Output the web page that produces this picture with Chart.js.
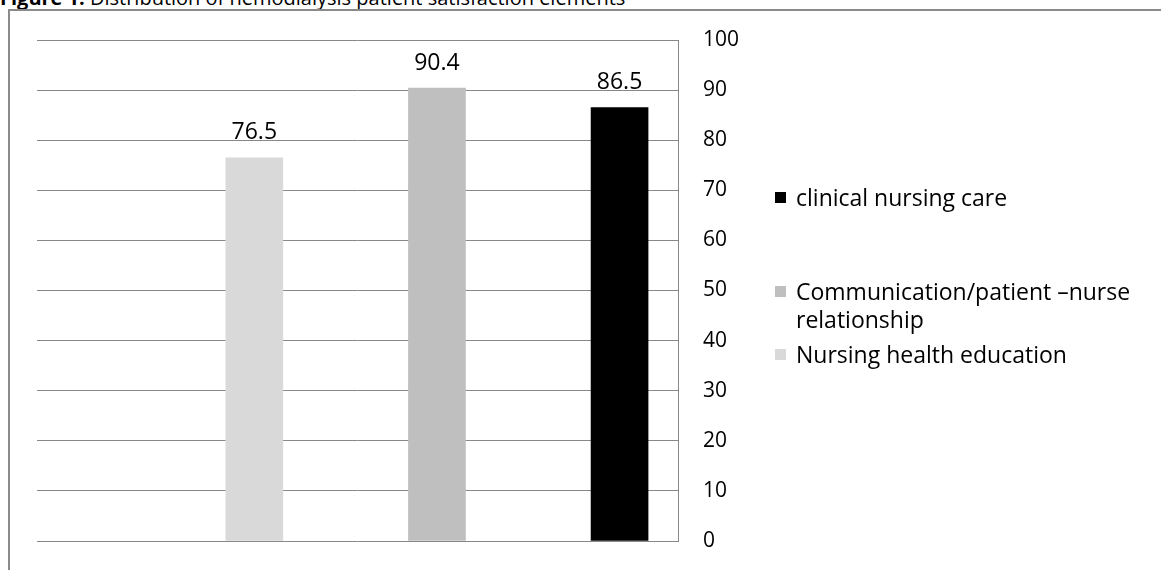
<!DOCTYPE html>
<html>
<head>
<meta charset="utf-8">
<script src="https://cdn.jsdelivr.net/npm/chart.js@4.4.1/dist/chart.umd.min.js"></script>
<style>
  html, body { margin: 0; padding: 0; width: 1161px; height: 570px; overflow: hidden; background: #fff; }
  body { font-family: "Open Sans", sans-serif; color: #000; position: relative; }
  #title { position: absolute; left: 0; top: -12px; font-size: 20px; line-height: 20px; white-space: nowrap; }
  #title b { font-weight: 700; }
  #frame { position: absolute; left: 8px; top: 9px; width: 1300px; height: 700px;
           border-left: 2px solid #8a8a8a; border-top: 2px solid #8a8a8a; }
  #wrap { position: absolute; left: 0; top: 0; width: 1161px; height: 570px; }
  #legend { position: absolute; left: 775px; top: 0; width: 380px; }
  .item { position: absolute; left: 0; display: flex; align-items: flex-start; font-size: 23px; line-height: 28px; }
  .swatch { width: 11px; height: 11px; margin-top: 9px; margin-right: 10px; flex: none; }
  .text { width: 360px; }
</style>
</head>
<body>
<div id="title"><b>Figure 1:</b> Distribution of hemodialysis patient satisfaction elements</div>
<div id="frame"></div>
<div id="wrap"><canvas id="chart" width="1161" height="570"></canvas></div>
<div id="legend"></div>
<script>
// Satisfaction elements (percent), drawn left to right
const categories = [
  "Nursing health education",
  "Communication/patient \u2013nurse relationship",
  "clinical nursing care"
];
const values = [76.5, 90.4, 86.5];
const barColors = ["#d9d9d9", "#bfbfbf", "#000000"];
const yTicks = [0, 10, 20, 30, 40, 50, 60, 70, 80, 90, 100];

// Value labels above each bar
const valueLabels = {
  id: "valueLabels",
  afterDatasetsDraw(chart) {
    const ctx = chart.ctx;
    const meta = chart.getDatasetMeta(0);
    ctx.save();
    ctx.font = '23px "Open Sans"';
    ctx.fillStyle = "#000";
    ctx.textAlign = "center";
    ctx.textBaseline = "alphabetic";
    meta.data.forEach((bar, i) => {
      ctx.fillText(values[i].toFixed(1), bar.x, bar.y - 18.5);
    });
    ctx.restore();
  }
};

new Chart(document.getElementById("chart"), {
  type: "bar",
  data: {
    datasets: [{
      data: values.map((v, i) => ({ x: i, y: v })),
      backgroundColor: barColors,
      borderWidth: 0,
      barThickness: 57
    }]
  },
  options: {
    responsive: false,
    animation: false,
    layout: { padding: { left: 37, top: 40, bottom: 29, right: 0 } },
    plugins: { legend: { display: false }, tooltip: { enabled: false } },
    scales: {
      x: { type: "linear", display: false, min: -1.19, max: 2.32, offset: false },
      y: {
        position: "right",
        min: 0, max: 100,
        afterBuildTicks(scale) { scale.ticks = yTicks.map(v => ({ value: v })); },
        afterFit(scale) {
          scale.width = 1161 - 678;
          scale.paddingTop = 0;
          scale.paddingBottom = 0;
        },
        ticks: { padding: 25, color: "#000", font: { family: "Open Sans", size: 21 } },
        grid: { color: "#888888", lineWidth: 1, drawTicks: false },
        border: { display: true, color: "#888888", width: 1 }
      }
    }
  },
  plugins: [valueLabels]
});

// Legend: last series first, as listed beside the plot
const legend = document.getElementById("legend");
const legendTops = [183, 277, 340];
categories.slice().reverse().forEach((name, k) => {
  const idx = categories.length - 1 - k;
  const item = document.createElement("div");
  item.className = "item";
  item.style.top = legendTops[k] + "px";
  const sw = document.createElement("span");
  sw.className = "swatch";
  sw.style.background = barColors[idx];
  const tx = document.createElement("span");
  tx.className = "text";
  tx.textContent = name;
  item.appendChild(sw);
  item.appendChild(tx);
  legend.appendChild(item);
});
</script>
</body>
</html>
